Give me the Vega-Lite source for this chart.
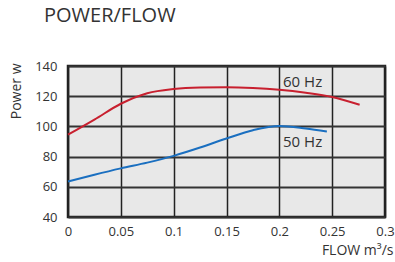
{
  "$schema": "https://vega.github.io/schema/vega-lite/v6.json",
  "width": 317,
  "height": 151,
  "autosize": "none",
  "padding": {"left": 68, "top": 66, "right": 10, "bottom": 45},
  "background": "white",
  "config": {
    "font": "Open Sans",
    "view": {"fill": "#e8e8e8", "stroke": "#222222", "strokeWidth": 2.5}
  },
  "title": {
    "text": "POWER/FLOW",
    "anchor": "start",
    "frame": "group",
    "dx": -24,
    "offset": 34,
    "fontSize": 20,
    "fontWeight": "normal",
    "color": "#333333",
    "font": "Open Sans"
  },
  "data": {
    "values": [
      {"flow": 0.0, "power": 94.5, "series": "60 Hz"},
      {"flow": 0.025, "power": 104.5, "series": "60 Hz"},
      {"flow": 0.05, "power": 115, "series": "60 Hz"},
      {"flow": 0.075, "power": 122, "series": "60 Hz"},
      {"flow": 0.1, "power": 124.8, "series": "60 Hz"},
      {"flow": 0.125, "power": 125.8, "series": "60 Hz"},
      {"flow": 0.15, "power": 126, "series": "60 Hz"},
      {"flow": 0.175, "power": 125.5, "series": "60 Hz"},
      {"flow": 0.2, "power": 124.3, "series": "60 Hz"},
      {"flow": 0.225, "power": 122.3, "series": "60 Hz"},
      {"flow": 0.25, "power": 119.5, "series": "60 Hz"},
      {"flow": 0.276, "power": 114.3, "series": "60 Hz"},
      {"flow": 0.0, "power": 63.5, "series": "50 Hz"},
      {"flow": 0.025, "power": 68, "series": "50 Hz"},
      {"flow": 0.05, "power": 72.2, "series": "50 Hz"},
      {"flow": 0.075, "power": 76, "series": "50 Hz"},
      {"flow": 0.1, "power": 80.5, "series": "50 Hz"},
      {"flow": 0.125, "power": 86, "series": "50 Hz"},
      {"flow": 0.15, "power": 92, "series": "50 Hz"},
      {"flow": 0.175, "power": 97.5, "series": "50 Hz"},
      {"flow": 0.2, "power": 100.3, "series": "50 Hz"},
      {"flow": 0.225, "power": 98.6, "series": "50 Hz"},
      {"flow": 0.245, "power": 96.6, "series": "50 Hz"},
      {"flow": 0.2035, "power": 129.4, "label": "60 Hz"},
      {"flow": 0.2035, "power": 89.7, "label": "50 Hz"}
    ]
  },
  "encoding": {
    "x": {
      "field": "flow",
      "type": "quantitative",
      "scale": {"domain": [0, 0.3], "nice": false, "zero": false},
      "axis": {
        "values": [0, 0.05, 0.1, 0.15, 0.2, 0.25, 0.3],
        "format": "~g",
        "title": "FLOW m³/s",
        "titleFontSize": 14,
        "titleFontWeight": "normal",
        "titleColor": "#333333",
        "titleAlign": "right",
        "titleBaseline": "middle",
        "titleX": 325,
        "titleY": 33,
        "labelFontSize": 13,
        "labelColor": "#333333",
        "labelPadding": 8,
        "labelOverlap": false,
        "ticks": false,
        "domain": false,
        "grid": true,
        "gridColor": "#222222",
        "gridWidth": 1.5,
        "gridOpacity": 1,
        "labelFlush": false
      }
    },
    "y": {
      "field": "power",
      "type": "quantitative",
      "scale": {"domain": [40, 140], "nice": false, "zero": false},
      "axis": {
        "values": [40, 60, 80, 100, 120, 140],
        "tickCount": 6,
        "title": "Power w",
        "titleFontSize": 14,
        "titleFontWeight": "normal",
        "titleColor": "#333333",
        "titleAngle": -90,
        "titleAlign": "right",
        "titleBaseline": "middle",
        "titleX": -52,
        "titleY": -3,
        "labelFontSize": 13,
        "labelColor": "#333333",
        "labelPadding": 11,
        "labelOverlap": false,
        "ticks": false,
        "domain": false,
        "grid": true,
        "gridColor": "#333333",
        "gridWidth": 2,
        "gridOpacity": 1,
        "labelFlush": false
      }
    }
  },
  "layer": [
    {
      "transform": [{"filter": "datum.series != null"}],
      "mark": {"type": "line", "interpolate": "monotone", "strokeWidth": 2},
      "encoding": {
        "color": {
          "field": "series",
          "type": "nominal",
          "scale": {"domain": ["60 Hz", "50 Hz"], "range": ["#c8202f", "#1a6fc0"]},
          "legend": null
        }
      }
    },
    {
      "transform": [{"filter": "datum.label != null"}],
      "mark": {"type": "text", "align": "left", "baseline": "middle", "fontSize": 15, "color": "#333333"},
      "encoding": {
        "text": {"field": "label"}
      }
    }
  ]
}
